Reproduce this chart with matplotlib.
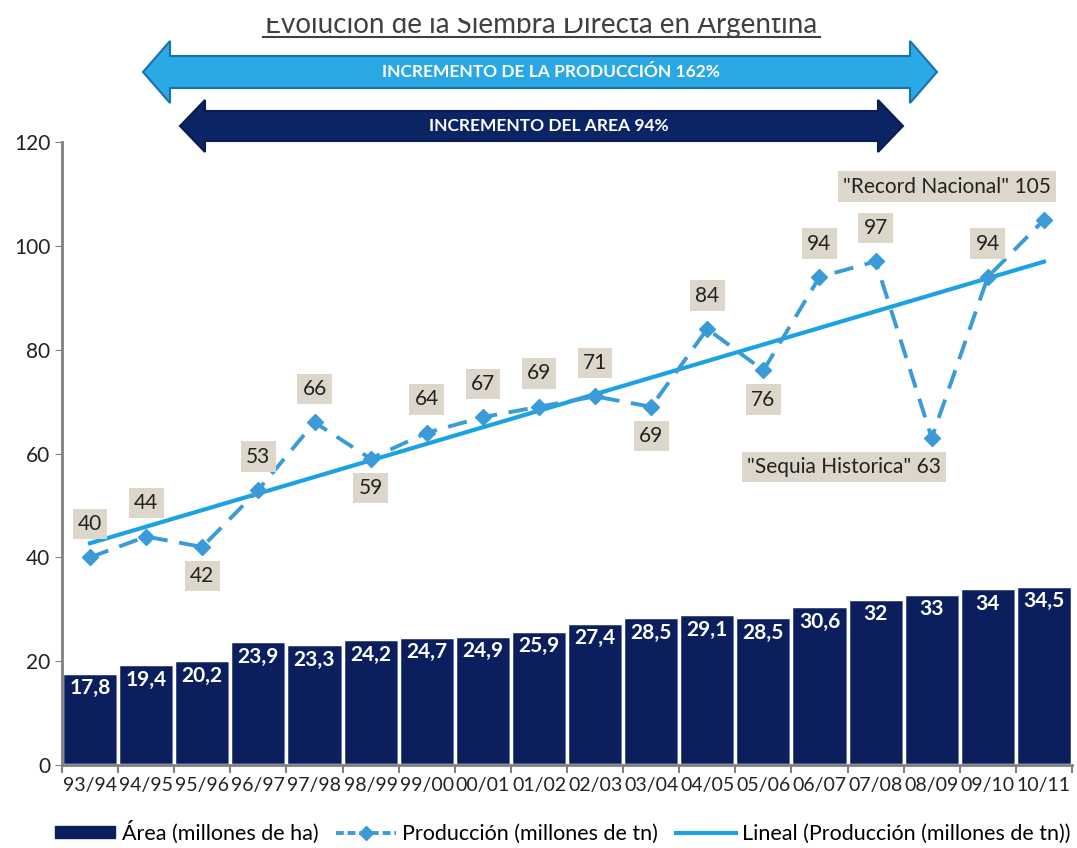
import matplotlib.pyplot as plt
import numpy as np
from matplotlib.patches import Polygon, Rectangle
from matplotlib.lines import Line2D
from matplotlib.patches import Patch

plt.rcParams['font.family'] = ['Lato', 'DejaVu Sans']

# Data
campanias = ['93/94', '94/95', '95/96', '96/97', '97/98', '98/99', '99/00', '00/01',
             '01/02', '02/03', '03/04', '04/05', '05/06', '06/07', '07/08', '08/09',
             '09/10', '10/11']
area = [17.8, 19.4, 20.2, 23.9, 23.3, 24.2, 24.7, 24.9, 25.9, 27.4, 28.5, 29.1,
        28.5, 30.6, 32, 33, 34, 34.5]
produccion = [40, 44, 42, 53, 66, 59, 64, 67, 69, 71, 69, 84, 76, 94, 97, 63, 94, 105]
area_labels = ['17,8', '19,4', '20,2', '23,9', '23,3', '24,2', '24,7', '24,9', '25,9',
               '27,4', '28,5', '29,1', '28,5', '30,6', '32', '33', '34', '34,5']
# which production labels go below the point
below = ['95/96', '98/99', '03/04', '05/06']
especiales = {'08/09': '"Sequia Historica" 63', '10/11': '"Record Nacional" 105'}

W, H = 1077, 848
BAR = '#0b1f5e'
DASH = '#3a9bd8'
TREND = '#1aa2e4'
BOX = '#ddd6ca'

fig = plt.figure(figsize=(W / 100, H / 100), dpi=100)
ax = fig.add_axes([62 / W, 1 - 765 / H, (1072 - 62) / W, (765 - 142) / H])

x = np.arange(len(campanias))
ax.bar(x, area, width=1.0, color=BAR, edgecolor='white', linewidth=2.5, zorder=2)
for xi, v, lab in zip(x, area, area_labels):
    ax.annotate(lab, (xi, v), xytext=(0, -4), textcoords='offset points',
                ha='center', va='top', color='white', fontsize=15, fontweight='bold')

# linear trend of production (Excel "Lineal")
m, b = np.polyfit(x, produccion, 1)
ax.plot([x[0], x[-1]], [m * x[0] + b, m * x[-1] + b], color=TREND, lw=3, zorder=3)

ax.plot(x, produccion, color=DASH, lw=2.8, ls=(0, (5, 3)), marker='D', ms=8,
        zorder=4)

bbox = dict(boxstyle='square,pad=0.25', fc=BOX, ec='none')
for xi, v, c in zip(x, produccion, campanias):
    if c in especiales:
        if v > 80:
            off = (-70, 24)
        else:
            off = (-63, -21)
        ax.annotate(especiales[c], (xi, v), xytext=off, textcoords='offset points',
                    ha='center', va='center', fontsize=15, color='#222222', bbox=bbox,
                    zorder=5)
    else:
        off = (0, -21) if c in below else (0, 24)
        ax.annotate(str(v), (xi, v), xytext=off, textcoords='offset points',
                    ha='center', va='center', fontsize=15, color='#222222', bbox=bbox,
                    zorder=5)

ax.set_xlim(-0.5, len(campanias) - 0.5)
ax.set_ylim(0, 120)
ax.set_yticks(range(0, 121, 20))
ax.tick_params(axis='y', labelsize=15, length=5, color='#808080', labelcolor='#222222')
ax.set_xticks(np.arange(-0.5, len(campanias), 1))
ax.set_xticklabels([])
ax.set_xticks(x, minor=True)
ax.set_xticklabels(campanias, minor=True)
ax.tick_params(axis='x', which='major', length=6, color='#808080', width=1.5)
ax.tick_params(axis='x', which='minor', length=0, labelsize=14, pad=9,
               labelcolor='#222222')
for s in ['top', 'right']:
    ax.spines[s].set_visible(False)
for s in ['left', 'bottom']:
    ax.spines[s].set_color('#808080')
    ax.spines[s].set_linewidth(2)

handles = [Patch(color=BAR),
           Line2D([], [], color=DASH, lw=2.8, ls=(0, (2, 1)), marker='D', ms=7),
           Line2D([], [], color=TREND, lw=3)]
fig.legend(handles, ['Área (millones de ha)', 'Producción (millones de tn)',
                     'Lineal (Producción (millones de tn))'],
           loc='center', bbox_to_anchor=(563 / W, 1 - 832 / H), ncol=3, frameon=False,
           fontsize=15.5, handlelength=2.8, handleheight=0.45, columnspacing=0.8,
           handletextpad=0.3)


def double_arrow(x0, x1, yc, shaft, head, hl, fc, ec):
    pts = [(x0, yc), (x0 + hl, yc - head), (x0 + hl, yc - shaft), (x1 - hl, yc - shaft),
           (x1 - hl, yc - head), (x1, yc), (x1 - hl, yc + head), (x1 - hl, yc + shaft),
           (x0 + hl, yc + shaft), (x0 + hl, yc + head)]
    pts = [(px / W, 1 - py / H) for px, py in pts]
    fig.patches.append(Polygon(pts, closed=True, fc=fc, ec=ec, lw=1.5,
                               transform=fig.transFigure, figure=fig))


double_arrow(143, 937, 72, 16, 31, 27, '#2aa8e4', '#1c6fae')
fig.text(551 / W, 1 - 72 / H, 'INCREMENTO DE LA PRODUCCIÓN 162%', ha='center',
         va='center', color='white', fontsize=12.5, fontweight='bold')
double_arrow(180, 903, 126, 15, 26, 25, '#0b2466', '#091c4d')
fig.text(549 / W, 1 - 126 / H, 'INCREMENTO DEL AREA 94%', ha='center', va='center',
         color='white', fontsize=12.5, fontweight='bold')

# title, its top cut off as in the source image
fig.text(541 / W, 1 - 33 / H, 'Evolución de la Siembra Directa en Argentina',
         ha='center', va='baseline', fontsize=20, color='#404040')
fig.add_artist(Line2D([263 / W, 820 / W], [1 - 37 / H, 1 - 37 / H], color='#404040',
                      lw=1.5, transform=fig.transFigure))
fig.add_artist(Rectangle((0, 1 - 18 / H), 1, 18 / H, fc='white', ec='none',
                         transform=fig.transFigure, zorder=10))

fig.savefig('out.png', dpi=100)
